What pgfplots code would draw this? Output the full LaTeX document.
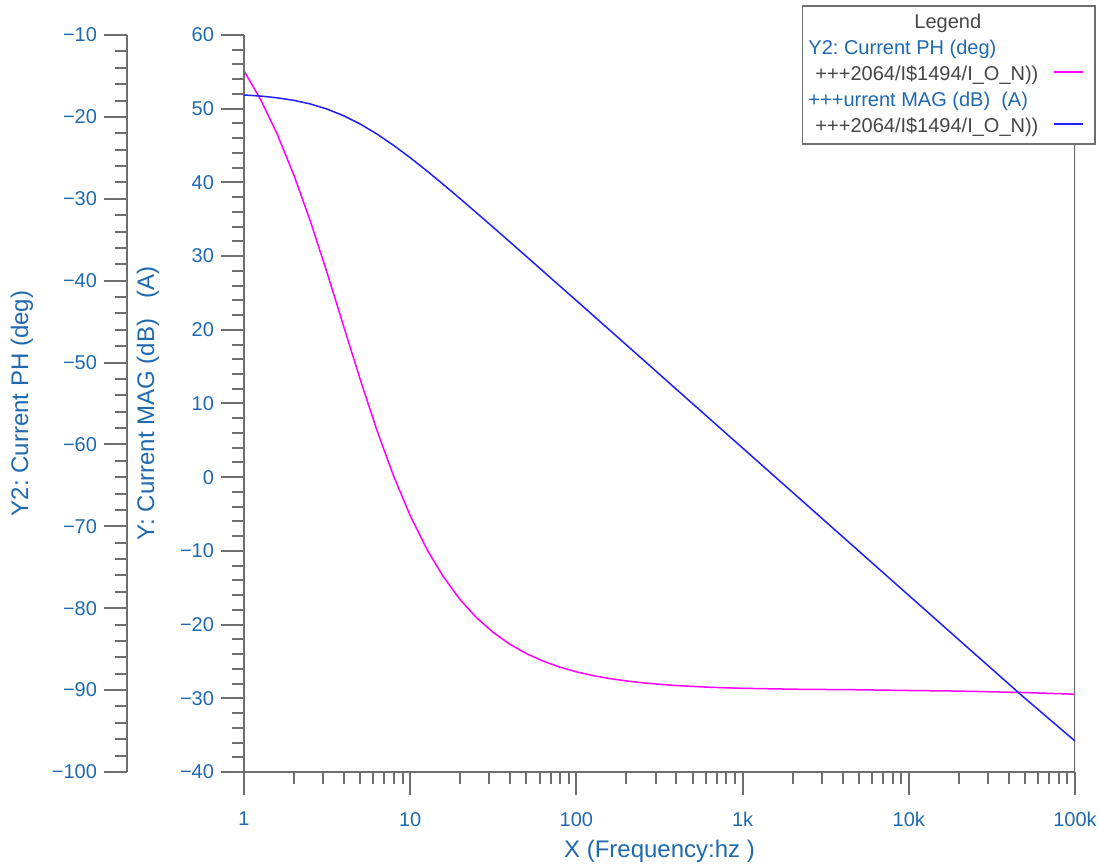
\documentclass[border=0pt]{standalone}
\usepackage{fontspec}
\setmainfont{Liberation Sans}
\usepackage{pgfplots}
\usepackage{pgfplotstable}
\pgfplotsset{compat=1.18}
\frenchspacing
\definecolor{lblue}{RGB}{30,105,175}
\definecolor{axgray}{RGB}{110,110,110}
\definecolor{txtgray}{RGB}{70,70,70}
\definecolor{magline}{RGB}{255,0,255}
\definecolor{blueline}{RGB}{30,30,255}

\pgfplotstableread{
f mag ph
1 51.86 -14.38
1.26 51.71 -17.90
1.58 51.48 -22.05
2 51.13 -27.15
2.51 50.64 -32.76
3.16 49.95 -39.02
3.98 49.04 -45.58
5.01 47.91 -52.10
6.31 46.56 -58.28
7.94 45.03 -63.84
10 43.35 -68.69
12.6 41.56 -72.80
15.8 39.73 -76.13
20 37.78 -78.97
25.1 35.86 -81.17
31.6 33.90 -82.96
39.8 31.92 -84.40
50.1 29.94 -85.55
63.1 27.94 -86.46
79.4 25.95 -87.19
100 23.96 -87.77
126 21.95 -88.23
158 19.99 -88.59
200 17.94 -88.88
251 15.97 -89.11
316 13.97 -89.29
398 11.96 -89.44
501 9.96 -89.55
631 7.96 -89.65
794 5.96 -89.72
1000 3.96 -89.78
2000 -2.06 -89.89
5000 -10.02 -89.96
10000 -16.04 -90.05
20000 -22.06 -90.12
50000 -30.0 -90.3
100000 -35.8 -90.5
}\datatable

\begin{document}
\frenchspacing
\begin{tikzpicture}
\path[use as bounding box] (-122pt,-47.5pt) rectangle (428pt,386pt);
\pgfplotsset{
  base/.style={
    scale only axis, width=415.5pt, height=368.5pt,
    at={(0,0)}, anchor=south west,
    font=\fontsize{10}{12}\selectfont,
    tick align=outside,
    major tick length=11.5pt, minor tick length=6pt,
    every tick/.style={axgray, line width=1pt},
    axis line style={axgray, line width=1pt, -},
    tick label style={lblue},
    /pgf/number format/assume math mode=true,
  }
}
% phase curve on the Y2 scale (hidden axis, same box)
\begin{axis}[base, xmode=log, xmin=1, xmax=100000, ymin=-100, ymax=-10, hide axis]
\addplot[magline, line width=0.75pt] table[x=f,y=ph]{\datatable};
\end{axis}
% Y2 axis drawn to the left
\begin{axis}[base, at={(-58.5pt,0)}, width=1pt, xmin=0, xmax=1, ymin=-100, ymax=-10,
  axis y line*=left, hide x axis,
  ytick={-100,-90,...,-10},
  yticklabels={−100,−90,−80,−70,−60,−50,−40,−30,−20,−10},
  minor y tick num=4,
  ylabel={Y2: Current PH (deg)},
  every axis y label/.style={at={(axis description cs:0,0.5)}, xshift=-52.5pt, rotate=90, anchor=center, lblue, font=\fontsize{12}{14}\selectfont},
]
\addplot[draw=none] coordinates {(0,-100) (1,-10)};
\end{axis}
% main axis
\begin{axis}[base, xmode=log, xmin=1, xmax=100000, ymin=-40, ymax=60,
  axis x line*=bottom, axis y line*=left,
  xtick={1,10,100,1000,10000,100000},
  xticklabels={1,10,100,1k,10k,100k},
  xticklabel style={yshift=-5pt},
  ytick={-40,-30,...,60},
  yticklabels={−40,−30,−20,−10,0,10,20,30,40,50,60},
  minor y tick num=4,
  xlabel={X (Frequency:hz )},
  every axis x label/.style={at={(axis description cs:0.5,0)}, yshift=-39.5pt, anchor=center, lblue, font=\fontsize{12}{14}\selectfont},
  ylabel={Y: Current MAG (dB)~~~(A)},
  every axis y label/.style={at={(axis description cs:0,0.5)}, xshift=-48pt, rotate=90, anchor=center, lblue, font=\fontsize{12}{14}\selectfont},
  legend style={at={(1.0253,1.0407)}, anchor=north east, draw=axgray, line width=0.8pt, fill=white,
    font=\fontsize{10}{12}\selectfont, inner xsep=3pt, inner ysep=2pt, row sep=0pt, column sep=7.5pt,
    nodes={inner sep=0pt, text height=9.5pt, text depth=3.5pt}},
  legend cell align=left, legend plot pos=right,
  legend image code/.code={\draw[line width=0.8pt] (0pt,1.5pt) -- (14.5pt,1.5pt); \path[draw=none] (14.5pt,0pt) -- (17.5pt,0pt);},
]
\draw[axgray, line width=1pt] (rel axis cs:1,0) -- (rel axis cs:1,1);
\addlegendimage{empty legend}\addlegendentry[txtgray]{\hspace*{53pt}Legend}
\addlegendimage{empty legend}\addlegendentry[lblue]{Y2: Current PH (deg)}
\addlegendimage{magline}\addlegendentry[txtgray]{\hspace*{3.5pt}+++2064/I\$1494/I\_O\_N))}
\addlegendimage{empty legend}\addlegendentry[lblue]{+++urrent MAG (dB)~~(A)}
\addplot[blueline, line width=0.75pt] table[x=f,y=mag]{\datatable};
\addlegendentry[txtgray]{\hspace*{3.5pt}+++2064/I\$1494/I\_O\_N))}
\end{axis}
\end{tikzpicture}
\end{document}
